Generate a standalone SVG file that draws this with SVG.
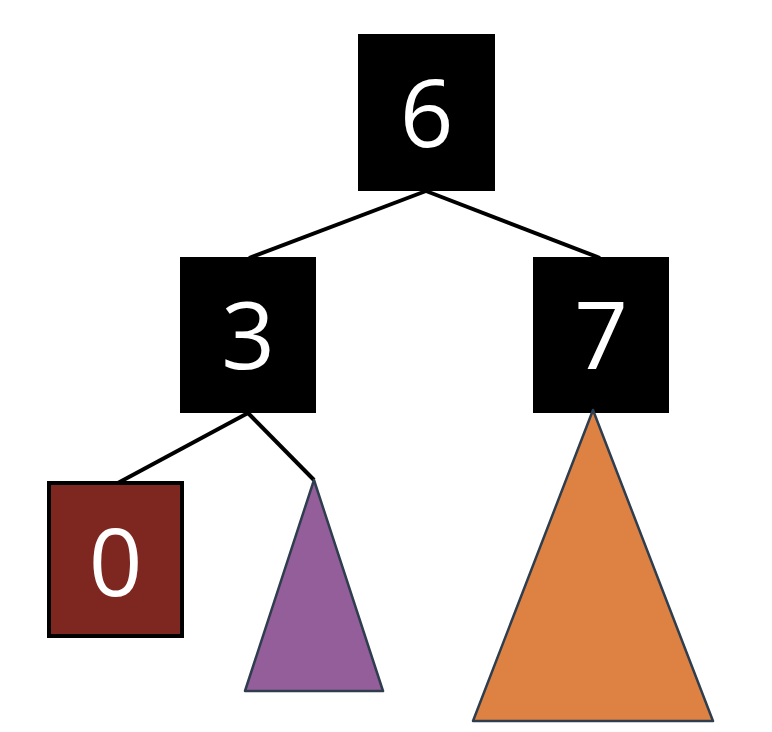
<svg xmlns="http://www.w3.org/2000/svg" width="772" height="732" viewBox="0 0 772 732">
<style>
.box{fill:#000}
.lbl{fill:#fff;font-family:"Open Sans","Noto Sans",sans-serif;font-size:94px;text-anchor:middle}
.edge{stroke:#000;stroke-width:4;fill:none}
.tri{stroke:#2E3E4E;stroke-width:2.5;stroke-linejoin:round}
</style>
<rect width="772" height="732" fill="#fff"/>
<g id="connectors">
<line class="edge" x1="426" y1="191" x2="249" y2="258"/>
<line class="edge" x1="426" y1="191" x2="600" y2="258"/>
<line class="edge" x1="248" y1="413" x2="116" y2="484"/>
<line class="edge" x1="248" y1="413" x2="314" y2="480"/>
</g>
<g id="node6"><rect class="box" x="358" y="34" width="137" height="157"/><text class="lbl" x="426.5" y="147">6</text></g>
<g id="node3"><rect class="box" x="180" y="257" width="136" height="156"/><text class="lbl" x="248" y="369">3</text></g>
<g id="node7"><rect class="box" x="533" y="257" width="136" height="156"/><text class="lbl" x="601" y="369">7</text></g>
<g id="node0"><rect x="49" y="483" width="133" height="153" fill="#7E2620" stroke="#000" stroke-width="4"/><text class="lbl" x="115.5" y="596">0</text></g>
<g id="subtree3r"><polygon class="tri" points="314,480 383,691 245,691" fill="#945E9A"/></g>
<g id="subtree7"><polygon class="tri" points="593,410 713,721 473,721" fill="#DE8244"/></g>
</svg>
